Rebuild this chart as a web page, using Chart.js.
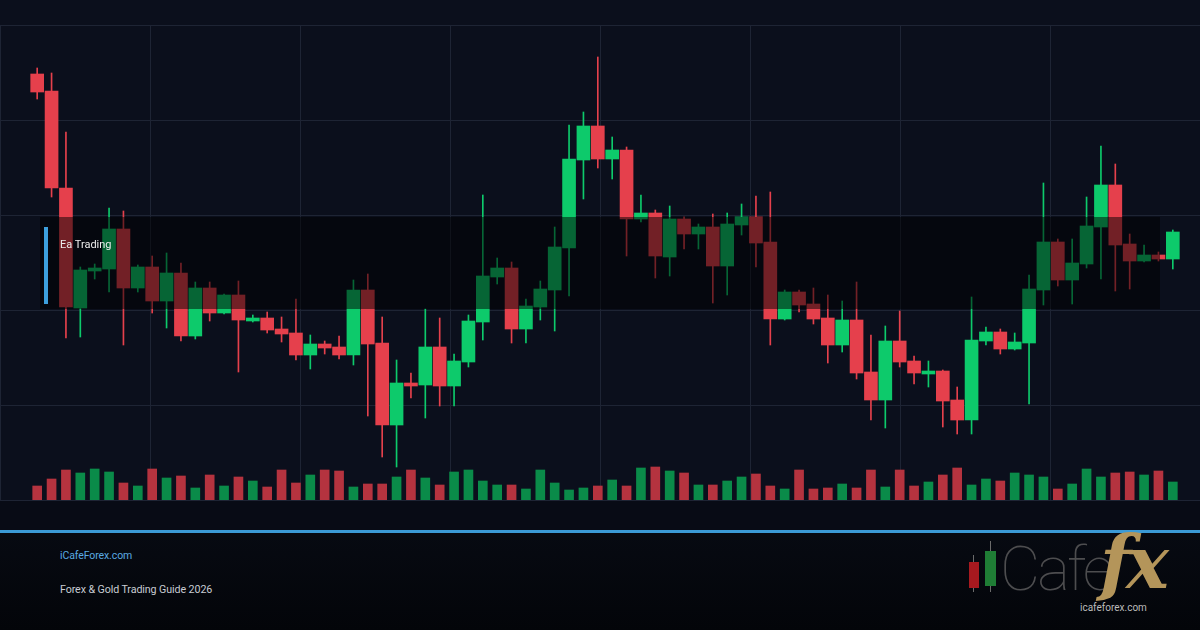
<!DOCTYPE html>
<html>
<head>
<meta charset="utf-8">
<script src="https://cdn.jsdelivr.net/npm/chart.js@4.4.1/dist/chart.umd.min.js"></script>
<style>
    html, body { margin: 0; padding: 0; }
    body {
        width: 1200px; height: 630px; position: relative; overflow: hidden;
        background: #0b0f1c;
        font-family: Roboto, "Noto Sans", sans-serif;
    }
    #grid {
        position: absolute; left: 0; top: 0; width: 1200px; height: 501px;
        background-image:
            linear-gradient(#1e2434 1px, transparent 1px),
            linear-gradient(90deg, #1e2434 1px, transparent 1px);
        background-size: 1200px 95px, 150px 475px;
        background-position: 0 25px, 0 25px;
        background-repeat: repeat-y, repeat-x;
    }
    #strip { position: absolute; left: 0; top: 501px; width: 1200px; height: 29px; background: #080b15; }
    #rule { position: absolute; left: 0; top: 530px; width: 1200px; height: 3px; background: #3b9ad6; }
    #footer {
        position: absolute; left: 0; top: 533px; width: 1200px; height: 97px;
        background: linear-gradient(#070a12, #030509);
    }
    #chartBox { position: absolute; left: 30px; top: 25px; width: 1150px; height: 475px; }
    #band { position: absolute; left: 40px; top: 217px; width: 1120px; height: 92px; background: rgba(0, 0, 0, 0.5); }
    #bandBar { position: absolute; left: 44px; top: 227px; width: 4px; height: 77px; background: #3d9fdc; }
    #bandText { position: absolute; left: 60px; top: 238px; font-size: 11px; color: #ececec; }
    #site { position: absolute; left: 60px; top: 549px; font-size: 10.5px; color: #5aaae2; letter-spacing: -0.1px; }
    #guide { position: absolute; left: 60px; top: 583px; font-size: 10.7px; color: #c8ccd3; letter-spacing: -0.1px; }
    .wick { position: absolute; width: 1px; background: #6b6b6b; }
    .lbody { position: absolute; }
    #cafe {
        position: absolute; left: 1000px; top: 532px; font-size: 62px; font-weight: 100;
        color: #4d4d4f; letter-spacing: -3px;
    }
    #fx {
        position: absolute; left: 1100px; top: 520px; font-size: 72px; font-style: italic; font-weight: bold;
        font-family: "DejaVu Serif", "Liberation Serif", serif; color: #b4955a; letter-spacing: -5px;
    }
    #small { position: absolute; left: 1080px; top: 602px; font-size: 10px; color: #bcbcbc; }
</style>
</head>
<body>
<div id="grid"></div>
<div id="strip"></div>
<div id="rule"></div>
<div id="footer"></div>
<div id="chartBox"><canvas id="chart" width="1150" height="475"></canvas></div>
<div id="band"></div>
<div id="bandBar"></div>
<div id="bandText">Ea Trading</div>

<div id="site">iCafeForex.com</div>
<div id="guide">Forex &amp; Gold Trading Guide 2026</div>

<div class="wick" style="left:973px; top:555px; height:37px;"></div>
<div class="lbody" style="left:969px; top:562px; width:10px; height:26px; background:#a8191f;"></div>
<div class="wick" style="left:990px; top:541px; height:51px;"></div>
<div class="lbody" style="left:985px; top:551px; width:11px; height:35px; background:#1f7d35;"></div>
<div id="cafe">Cafe</div>
<div id="fx">fx</div>
<div id="small">icafeforex.com</div>

<script>
// OHLC per session (price units)
const open = [
    2342.6, 2340.9, 2331.2, 2319.2, 2322.9, 2323.1, 2327.1, 2321.2, 2323.3, 2319.9,
    2322.7, 2316.4, 2321.2, 2318.7, 2320.5, 2317.9, 2318.2, 2317.1, 2316.7, 2314.5,
    2315.6, 2315.3, 2314.5, 2321.0, 2315.7, 2307.5, 2311.7, 2311.5, 2315.3, 2311.4,
    2313.8, 2317.8, 2322.3, 2323.2, 2317.1, 2319.3, 2321.0, 2325.2, 2334.0, 2337.4,
    2334.1, 2335.0, 2328.1, 2328.7, 2324.3, 2328.1, 2326.6, 2327.3, 2323.4, 2327.5,
    2328.3, 2325.8, 2318.1, 2320.8, 2319.6, 2318.2, 2315.5, 2318.0, 2312.8, 2310.0,
    2315.9, 2313.9, 2312.6, 2312.9, 2310.0, 2308.0, 2315.9, 2316.8, 2315.1, 2315.7,
    2321.0, 2325.8, 2322.0, 2323.6, 2327.3, 2331.5, 2325.6, 2323.9, 2324.5, 2324.1
];
const high = [
    2343.2, 2342.7, 2336.8, 2323.3, 2323.6, 2329.2, 2328.9, 2323.5, 2324.4, 2324.7,
    2323.7, 2321.8, 2321.8, 2320.6, 2321.9, 2318.5, 2318.8, 2318.3, 2320.1, 2316.5,
    2315.9, 2316.4, 2322.0, 2322.6, 2318.3, 2314.0, 2312.7, 2319.1, 2318.2, 2314.6,
    2318.5, 2330.5, 2324.2, 2323.8, 2320.1, 2321.9, 2327.3, 2337.5, 2338.8, 2344.3,
    2336.3, 2335.3, 2330.5, 2329.0, 2329.4, 2328.3, 2327.6, 2328.6, 2328.7, 2329.6,
    2330.4, 2330.8, 2321.0, 2321.0, 2321.2, 2320.5, 2319.9, 2321.8, 2316.5, 2317.4,
    2318.9, 2314.4, 2313.9, 2313.0, 2311.3, 2320.3, 2317.3, 2317.1, 2316.7, 2322.5,
    2331.7, 2326.1, 2326.1, 2330.3, 2335.4, 2333.6, 2326.6, 2325.5, 2324.8, 2327.0
];
const low = [
    2340.1, 2330.3, 2316.2, 2316.3, 2322.1, 2320.8, 2315.5, 2320.8, 2318.7, 2317.2,
    2315.9, 2316.1, 2317.9, 2318.6, 2312.8, 2317.8, 2316.7, 2315.8, 2314.0, 2313.1,
    2314.6, 2314.1, 2313.5, 2308.4, 2304.3, 2303.3, 2310.2, 2308.2, 2309.4, 2309.4,
    2313.3, 2316.0, 2321.6, 2315.7, 2315.7, 2318.0, 2316.9, 2320.4, 2330.1, 2333.2,
    2332.1, 2324.4, 2327.8, 2322.2, 2322.4, 2325.1, 2325.1, 2319.7, 2320.5, 2326.5,
    2323.3, 2315.5, 2318.0, 2318.8, 2317.6, 2313.7, 2314.8, 2312.1, 2308.0, 2307.2,
    2313.3, 2311.6, 2311.3, 2307.3, 2306.6, 2306.6, 2315.5, 2314.6, 2315.0, 2309.6,
    2319.5, 2321.4, 2319.6, 2323.2, 2322.1, 2320.9, 2321.1, 2323.8, 2323.9, 2323.1
];
const close = [
    2340.8, 2331.2, 2319.3, 2323.0, 2323.2, 2327.1, 2321.2, 2323.3, 2319.9, 2322.7,
    2316.4, 2321.2, 2318.7, 2320.5, 2318.0, 2318.2, 2317.0, 2316.6, 2314.5, 2315.6,
    2315.2, 2314.5, 2321.0, 2315.6, 2307.5, 2311.7, 2311.4, 2315.3, 2311.4, 2313.9,
    2317.9, 2322.4, 2323.2, 2317.1, 2319.4, 2321.1, 2325.3, 2334.1, 2337.4, 2334.1,
    2335.0, 2328.1, 2328.7, 2324.4, 2328.1, 2326.6, 2327.3, 2323.4, 2327.6, 2328.3,
    2325.7, 2318.1, 2320.8, 2319.5, 2318.1, 2315.5, 2318.0, 2312.7, 2310.0, 2315.9,
    2313.8, 2312.7, 2312.9, 2309.9, 2308.0, 2316.0, 2316.8, 2315.1, 2315.8, 2321.1,
    2325.8, 2322.0, 2323.7, 2327.4, 2331.5, 2325.5, 2323.9, 2324.5, 2324.1, 2326.8
];
const volume = [
    1400, 2100, 3000, 2700, 3100, 2800, 1700, 1400, 3100, 2200,
    2400, 1200, 2500, 1400, 2300, 1900, 1300, 3000, 1700, 2500,
    3000, 2900, 1300, 1600, 1600, 2300, 3000, 2200, 1500, 2800,
    3000, 1900, 1500, 1500, 1100, 3000, 1700, 1000, 1200, 1400,
    2000, 1400, 3200, 3300, 2900, 2700, 1500, 1500, 1900, 2300,
    2600, 1400, 1100, 3000, 1100, 1200, 1600, 1200, 3000, 1300,
    3000, 1400, 1800, 2500, 3200, 1500, 2100, 1900, 2700, 2500,
    2300, 1100, 1600, 3100, 2300, 2700, 2800, 2500, 2900, 1800
];
const sessions = open.map((_, i) => "S" + (i + 1));

const up = close.map((c, i) => c >= open[i]);
const candleColors = up.map(u => u ? "#0dca6b" : "#e5404c");
const volumeColors = up.map(u => u ? "#0a8b49" : "#b5333f");

const ctx = document.getElementById("chart").getContext("2d");
const chart = new Chart(ctx, {
    type: "bar",
    data: {
        labels: sessions,
        datasets: [
            {
                label: "Body",
                data: open.map((o, i) => [o, close[i]]),
                backgroundColor: candleColors,
                barThickness: 13,
                grouped: false,
                yAxisID: "price",
                order: 1
            },
            {
                label: "Wick",
                data: low.map((l, i) => [l, high[i]]),
                backgroundColor: candleColors,
                barThickness: 1,
                grouped: false,
                yAxisID: "price",
                order: 2
            },
            {
                label: "Volume",
                data: volume,
                backgroundColor: volumeColors,
                barThickness: 9,
                grouped: false,
                yAxisID: "vol",
                order: 3
            }
        ]
    },
    options: {
        responsive: false,
        devicePixelRatio: 1,
        animation: false,
        layout: { padding: 0 },
        plugins: { legend: { display: false }, tooltip: { enabled: false } },
        scales: {
            x: { display: false, offset: true },
            price: { display: false, min: 2300, max: 2347.5 },
            vol: { display: false, min: 0, max: 47500 }
        }
    }
});
</script>
</body>
</html>
